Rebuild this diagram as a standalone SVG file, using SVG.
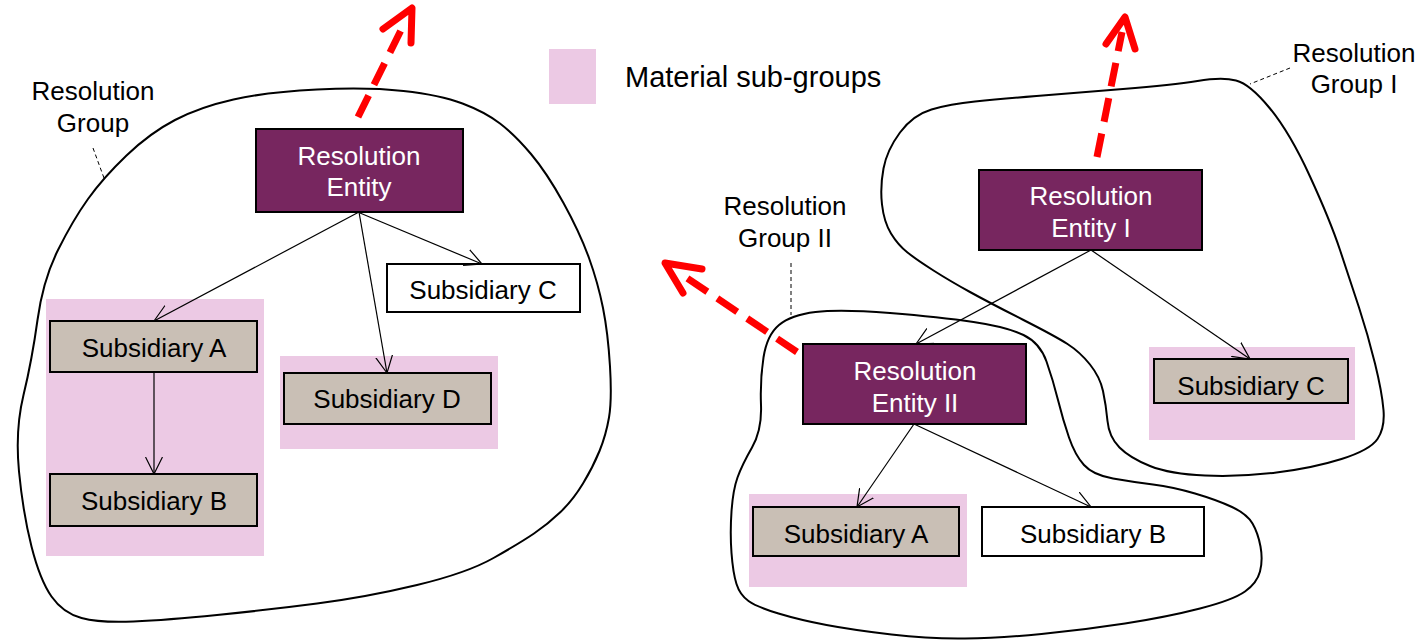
<svg xmlns="http://www.w3.org/2000/svg" width="1422" height="640" viewBox="0 0 1422 640">
  <style>
    text { font-family: "Liberation Sans", Arial, sans-serif; font-size: 26px; text-anchor: middle; fill: #000; }
    .white { fill: #fff; }
    .legend { font-size: 29px; text-anchor: start; }
    .blob { fill: none; stroke: #000; stroke-width: 2; }
    .pink { fill: #ECC9E4; }
    .entity { fill: #77265F; stroke: #000; stroke-width: 2; }
    .sub { fill: #C9BFB5; stroke: #000; stroke-width: 2; }
    .plain { fill: #fff; stroke: #000; stroke-width: 2; }
    .link { stroke: #000; stroke-width: 1.2; fill: none; marker-end: url(#open); }
    .leader { stroke: #000; stroke-width: 1; stroke-dasharray: 4 3; fill: none; }
    .exit { stroke: #FF0000; stroke-width: 7; stroke-dasharray: 24 12; fill: none; }
    .exit-head { stroke: #FF0000; stroke-width: 7; fill: none; stroke-linecap: round; stroke-linejoin: round; }
  </style>
  <defs>
    <marker id="open" viewBox="0 0 18 18" refX="17" refY="9" markerWidth="18" markerHeight="18" markerUnits="userSpaceOnUse" orient="auto">
      <path d="M0,0.5 L17,9 L0,17.5" fill="none" stroke="#000" stroke-width="1.2"/>
    </marker>
  </defs>

  <!-- group outlines -->
  <g id="group-outlines">
    <path id="resolution-group" class="blob" d="M175,120 Q200,107 233.5,99.5 Q267,92 317,89.5 Q367,87 403.5,91 Q440,95 462.5,103.5 Q485,112 500,123.5 Q515,135 531,154 Q547,173 563.5,203 Q580,233 589,258 Q598,283 603,308 Q608,333 610,366.5 Q612,400 609,417.5 Q606,435 599.5,451 Q593,467 583,483.5 Q573,500 560.5,512 Q548,524 534,533.5 Q520,543 493.5,558 Q467,573 417,585 Q367,597 317,603.5 Q267,610 217,615 Q167,620 133.5,621.5 Q100,623 81.5,618 Q63,613 51.5,596.5 Q40,580 31.5,546.5 Q23,513 19,471.5 Q15,430 23.5,395 Q32,360 37.5,320 Q43,280 58,250 Q73,220 88,199 Q103,178 126.5,155.5 Q150,133 175,120 Z"/>
    <path id="resolution-group-1" class="blob" d="M975,101.5 Q1000,99 1036.5,96 Q1073,93 1123,89 Q1173,85 1197.5,81 Q1222,77 1236,80.5 Q1250,84 1270,108.5 Q1290,133 1310,176.5 Q1330,220 1340,250 Q1350,280 1359,307.5 Q1368,335 1375,363.5 Q1382,392 1383.5,410 Q1385,428 1377.5,439 Q1370,450 1341.5,459 Q1313,468 1276.5,472.5 Q1240,477 1205,475.5 Q1170,474 1150,466 Q1130,458 1119.5,447.5 Q1109,437 1107.5,421 Q1106,405 1103,391 Q1100,377 1090,364.5 Q1080,352 1067.5,344 Q1055,336 1022.5,319.5 Q990,303 970,292 Q950,281 933.5,270.5 Q917,260 907.5,252.5 Q898,245 891,233.5 Q884,222 882,204.5 Q880,187 883.5,168.5 Q887,150 900,132.5 Q913,115 931.5,109.5 Q950,104 975,101.5 Z"/>
    <path id="resolution-group-2" class="blob" d="M779,325 Q791,315 815.5,312 Q840,309 890,313 Q940,317 973.5,322 Q1007,327 1023.5,335 Q1040,343 1046.5,361.5 Q1053,380 1058,400 Q1063,420 1069,437.5 Q1075,455 1084,465 Q1093,475 1113,478.5 Q1133,482 1153,484.5 Q1173,487 1195,493.5 Q1217,500 1232,507 Q1247,514 1252.5,523.5 Q1258,533 1260.5,546.5 Q1263,560 1260,571.5 Q1257,583 1245,591.5 Q1233,600 1200,608.5 Q1167,617 1125,623.5 Q1083,630 1041.5,634 Q1000,638 965,638.5 Q930,639 891.5,634.5 Q853,630 826.5,625 Q800,620 778.5,613.5 Q757,607 748.5,601 Q740,595 736.5,584 Q733,573 731.5,553 Q730,533 731.5,511.5 Q733,490 737.5,477.5 Q742,465 752,447.5 Q762,430 761,405 Q760,380 763.5,357.5 Q767,335 779,325 Z"/>
  </g>

  <!-- material sub-group backgrounds -->
  <g id="material-subgroups">
    <rect class="pink" x="46" y="299" width="218" height="257"/>
    <rect class="pink" x="280" y="356" width="218" height="93"/>
    <rect class="pink" x="1149" y="347" width="206" height="93"/>
    <rect class="pink" x="749" y="494" width="218" height="93"/>
  </g>

  <!-- legend -->
  <g id="legend">
    <rect class="pink" x="549" y="49" width="47" height="55"/>
    <text class="legend" x="625" y="87">Material sub-groups</text>
  </g>

  <!-- group labels -->
  <g id="label-group">
    <path class="leader" d="M93,148 L104,178"/>
    <text x="93" y="100">Resolution</text>
    <text x="93" y="132">Group</text>
  </g>
  <g id="label-group-1">
    <path class="leader" d="M1290,68 L1250,84"/>
    <text x="1354" y="62">Resolution</text>
    <text x="1354" y="93">Group I</text>
  </g>
  <g id="label-group-2">
    <path class="leader" d="M791,263 L791,315"/>
    <text x="785" y="215">Resolution</text>
    <text x="785" y="247">Group II</text>
  </g>

  <!-- left structure -->
  <g id="entity">
    <rect class="entity" x="256" y="129" width="207" height="83"/>
    <text class="white" x="359" y="165">Resolution</text>
    <text class="white" x="359" y="196">Entity</text>
  </g>
  <g id="left-sub-a">
    <rect class="sub" x="50" y="321" width="207" height="51"/>
    <text x="154" y="357">Subsidiary A</text>
  </g>
  <g id="left-sub-b">
    <rect class="sub" x="50" y="474" width="207" height="52"/>
    <text x="154" y="510">Subsidiary B</text>
  </g>
  <g id="left-sub-c">
    <rect class="plain" x="387" y="264" width="193" height="48"/>
    <text x="483" y="299">Subsidiary C</text>
  </g>
  <g id="left-sub-d">
    <rect class="sub" x="284" y="373" width="207" height="51"/>
    <text x="387" y="408">Subsidiary D</text>
  </g>

  <!-- right structure -->
  <g id="entity-1">
    <rect class="entity" x="979" y="170" width="223" height="80"/>
    <text class="white" x="1091" y="205">Resolution</text>
    <text class="white" x="1091" y="237">Entity I</text>
  </g>
  <g id="entity-2">
    <rect class="entity" x="803" y="344" width="223" height="80"/>
    <text class="white" x="915" y="380">Resolution</text>
    <text class="white" x="915" y="412">Entity II</text>
  </g>
  <g id="right-sub-c">
    <rect class="sub" x="1154" y="359" width="194" height="44"/>
    <text x="1251" y="395">Subsidiary C</text>
  </g>
  <g id="right-sub-a">
    <rect class="sub" x="753" y="507" width="206" height="49"/>
    <text x="856" y="543">Subsidiary A</text>
  </g>
  <g id="right-sub-b">
    <rect class="plain" x="982" y="507" width="222" height="49"/>
    <text x="1093" y="543">Subsidiary B</text>
  </g>

  <!-- connectors -->
  <g id="connectors">
    <path class="link" d="M359,212 L154,321"/>
    <path class="link" d="M359,212 L387,373"/>
    <path class="link" d="M360,213 L482,264"/>
    <path class="link" d="M154,372 L154,474"/>
    <path class="link" d="M1091,250 L916,344"/>
    <path class="link" d="M1091,250 L1250,359"/>
    <path class="link" d="M914,424 L857,507"/>
    <path class="link" d="M914,424 L1091,507"/>

    <!-- resolution exits -->
    <path class="exit" d="M358,117 L405,22"/>
    <path class="exit-head" d="M383,29 L412,8 L411,43"/>
    <path class="exit" d="M1097,157 L1122,32"/>
    <path class="exit-head" d="M1106,44 L1125,17 L1135,49"/>
    <path class="exit" d="M797,352 L678,272"/>
    <path class="exit-head" d="M702,269 L665,263 L683,293"/>
  </g>
</svg>
